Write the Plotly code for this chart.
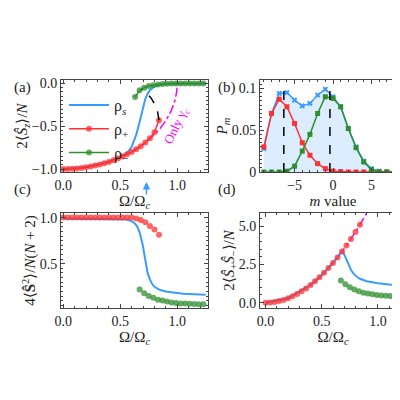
import plotly.graph_objects as go

# ---- panel (a) ----
xa_red = [0,.04,.08,.12,.16,.2,.24,.28,.32,.36,.4,.44,.48,.52,.56,.6,.64,.68,.72,.76,.8,.84]
ya_red = [-1,-0.999,-0.997,-0.993,-0.987,-0.98,-0.971,-0.96,-0.947,-0.933,-0.917,-0.898,-0.877,-0.854,-0.828,-0.8,-0.768,-0.733,-0.69,-0.64,-0.57,-0.43]
xa_blue = [0,0.2,0.4,0.5,0.55,0.58,0.6,0.62,0.64,0.66,0.68,0.7,0.72,0.74,0.76,0.8,0.85,0.9,0.95,1.25]
ya_blue = [-1,-0.98,-0.915,-0.86,-0.82,-0.78,-0.74,-0.68,-0.6,-0.5,-0.38,-0.27,-0.18,-0.12,-0.08,-0.035,-0.015,-0.007,-0.003,0]
xa_green = [.63,.67,.71,.75,.79,.83,.87,.91,.95,.99,1.03,1.07,1.11,1.15,1.19,1.23]
ya_green = [-0.16,-0.08,-0.05,-0.03,-0.02,-0.012,-0.007,-0.004,-0.002,-0.001,0,0,0,0,0,0]
xa_dash = [0.84,0.835,0.825,0.81,0.79,0.77,0.75,0.73,0.71,0.69]
ya_dash = [-0.43,-0.37,-0.31,-0.26,-0.21,-0.17,-0.14,-0.11,-0.09,-0.07]
xa_mag = [0,0.2,0.4,0.6,0.7,0.8,0.85,0.9,0.95,0.98,0.995,1.0]
ya_mag = [-1,-0.98,-0.917,-0.8,-0.714,-0.6,-0.527,-0.436,-0.312,-0.2,-0.1,0]

# ---- panel (b) ----
m_vals = [-9,-8,-7,-6,-5,-4,-3,-2,-1,0,1,2,3,4,5,6,7,8,9]
pb_blue = [0.028,0.07,0.094,0.095,0.086,0.079,0.082,0.092,0.099,0.09,0.078,0.052,0.03,0.013,0.004,0.001,0,0,0]
pb_red = [0.03,0.07,0.087,0.078,0.058,0.035,0.02,0.01,0.004,0.001,0.0005,0,0,0,0,0,0,0,0]
pb_green = [0,0,0,0.001,0.007,0.025,0.045,0.07,0.09,0.088,0.078,0.052,0.029,0.012,0.003,0,0,0,0]
b_vlines = [-6.4,-0.4]

# ---- panel (c) ----
yc_red = [1,1,1,1,1,1,1,1,1,1,1,1,1,1,1,1,0.99,0.975,0.95,0.91,0.87,0.815]
xc_blue = [0,0.5,0.55,0.58,0.61,0.63,0.65,0.67,0.69,0.7,0.71,0.72,0.73,0.74,0.76,0.78,0.8,0.85,0.9,0.95,1.05,1.25]
yc_blue = [0.99,0.985,0.98,0.97,0.955,0.935,0.9,0.84,0.75,0.69,0.61,0.53,0.46,0.4,0.33,0.28,0.25,0.215,0.2,0.19,0.175,0.165]
xcd_green = [.67,.71,.75,.79,.83,.87,.91,.95,.99,1.03,1.07,1.11,1.15,1.19,1.23]
yc_green = [0.22,0.18,0.15,0.13,0.11,0.10,0.09,0.08,0.075,0.07,0.068,0.066,0.064,0.062,0.06]

# ---- panel (d) ----
yd_red = [0,0.012,0.046,0.10,0.18,0.29,0.41,0.56,0.74,0.93,1.15,1.39,1.66,1.95,2.26,2.59,2.95,3.33,3.73,4.16,4.61,5.08]
xd_mag = [0,0.2,0.4,0.5,0.6,0.7,0.8,0.85,0.9]
yd_mag = [0,0.29,1.15,1.8,2.59,3.53,4.61,5.2,5.83]
xd_blue = [0,0.2,0.4,0.5,0.6,0.63,0.65,0.67,0.68,0.69,0.7,0.72,0.74,0.76,0.78,0.81,0.84,0.9,1.0,1.1,1.25]
yd_blue = [0,0.29,1.15,1.8,2.6,2.9,3.12,3.27,3.3,3.27,3.15,2.8,2.45,2.15,1.92,1.7,1.56,1.4,1.27,1.18,1.12]
yd_green = [1.45,1.2,1.0,0.85,0.75,0.65,0.6,0.55,0.5,0.47,0.45,0.43,0.42,0.41,0.4]

BLUE = "#3a9bff"; RED = "#ff3030"; GREEN = "#2e8f2e"; MAG = "#ff00ff"
FONT = "Liberation Serif"

fig = go.Figure()
def mk(c): return dict(color=c, size=6, opacity=0.75)

# (a)
fig.add_trace(go.Scatter(x=xa_mag, y=ya_mag, mode="lines", line=dict(color=MAG, dash="dashdot", width=1.5), xaxis="x", yaxis="y", showlegend=False))
fig.add_trace(go.Scatter(x=xa_blue, y=ya_blue, mode="lines", line=dict(color=BLUE, width=2), name="ρ<sub><i>s</i></sub>", xaxis="x", yaxis="y"))
fig.add_trace(go.Scatter(x=xa_red, y=ya_red, mode="lines+markers", line=dict(color=RED, width=1.5), marker=mk(RED), name="ρ<sub>+</sub>", xaxis="x", yaxis="y"))
fig.add_trace(go.Scatter(x=xa_green, y=ya_green, mode="lines+markers", line=dict(color=GREEN, width=1.5), marker=mk(GREEN), name="ρ<sub>−</sub>", xaxis="x", yaxis="y"))
fig.add_trace(go.Scatter(x=xa_dash, y=ya_dash, mode="lines", line=dict(color="black", dash="dash", width=1.5), xaxis="x", yaxis="y", showlegend=False))

# (b)
fig.add_trace(go.Scatter(x=m_vals, y=pb_blue, mode="lines+markers", fill="tozeroy", fillcolor="rgba(58,155,255,0.18)", line=dict(color=BLUE, width=1.5), marker=dict(color=BLUE, size=5, symbol="x"), xaxis="x2", yaxis="y2", showlegend=False))
fig.add_trace(go.Scatter(x=m_vals, y=pb_red, mode="lines+markers", line=dict(color=RED, width=1.5), marker=dict(color=RED, size=5, symbol="square"), xaxis="x2", yaxis="y2", showlegend=False))
fig.add_trace(go.Scatter(x=m_vals, y=pb_green, mode="lines+markers", line=dict(color=GREEN, width=1.5), marker=dict(color=GREEN, size=5, symbol="square"), xaxis="x2", yaxis="y2", showlegend=False))
for v in b_vlines:
    fig.add_shape(type="line", x0=v, x1=v, y0=0, y1=0.1, xref="x2", yref="y2", line=dict(color="black", dash="dash", width=1.5))

# (c)
fig.add_trace(go.Scatter(x=xc_blue, y=yc_blue, mode="lines", line=dict(color=BLUE, width=2), xaxis="x3", yaxis="y3", showlegend=False))
fig.add_trace(go.Scatter(x=xa_red, y=yc_red, mode="markers", marker=mk(RED), xaxis="x3", yaxis="y3", showlegend=False))
fig.add_trace(go.Scatter(x=xcd_green, y=yc_green, mode="markers", marker=mk(GREEN), xaxis="x3", yaxis="y3", showlegend=False))

# (d)
fig.add_trace(go.Scatter(x=xd_mag, y=yd_mag, mode="lines", line=dict(color=MAG, dash="dashdot", width=1.5), xaxis="x4", yaxis="y4", showlegend=False))
fig.add_trace(go.Scatter(x=xd_blue, y=yd_blue, mode="lines", line=dict(color=BLUE, width=2), xaxis="x4", yaxis="y4", showlegend=False))
fig.add_trace(go.Scatter(x=xa_red, y=yd_red, mode="markers", marker=mk(RED), xaxis="x4", yaxis="y4", showlegend=False))
fig.add_trace(go.Scatter(x=xcd_green, y=yd_green, mode="markers", marker=mk(GREEN), xaxis="x4", yaxis="y4", showlegend=False))

def ax(domain, rng, anchor, title=None, tickvals=None, ticktext=None, standoff=0):
    d = dict(domain=domain, range=rng, anchor=anchor, showline=True, linecolor="#444", linewidth=1,
             mirror="ticks", ticks="inside", ticklen=4, tickcolor="#444", showgrid=False, zeroline=False,
             automargin=False,
             minor=dict(ticks="inside", ticklen=2, tickcolor="#444"),
             tickfont=dict(family=FONT, size=14, color="#222"))
    if title: d["title"] = dict(text=title, font=dict(family=FONT, size=15, color="#222"), standoff=standoff)
    if tickvals is not None: d["tickvals"] = tickvals
    if ticktext is not None: d["ticktext"] = ticktext
    return d

OM = "Ω/Ω<sub><i>c</i></sub>"
fig.update_layout(
    width=400, height=400, margin=dict(l=0, r=0, t=0, b=0, autoexpand=False),
    paper_bgcolor="white", plot_bgcolor="white",
    xaxis=ax([0.1325, 0.5], [-0.02, 1.27], "y", OM, tickvals=[0, 0.5, 1.0], ticktext=["0.0", "0.5", "1.0"]),
    yaxis=ax([0.59, 0.82], [-1.035, 0.04], "x", "2⟨<i>Ŝ<sub>z</sub></i>⟩/<i>N</i>", tickvals=[-1, -0.5, 0], ticktext=["−1.0", "−0.5", "0.0"]),
    xaxis2=ax([0.63, 0.995], [-9.5, 9.5], "y2", "<i>m</i> value", tickvals=[-5, 0, 5], ticktext=["−5", "0", "5"]),
    yaxis2=ax([0.59, 0.82], [0, 0.11], "x2", "<i>P<sub>m</sub></i>", tickvals=[0, 0.05, 0.1], ticktext=["0", "0.05", "0.1"]),
    xaxis3=ax([0.1325, 0.5], [-0.02, 1.27], "y3", OM, tickvals=[0, 0.5, 1.0], ticktext=["0.0", "0.5", "1.0"]),
    yaxis3=ax([0.25, 0.4875], [0.02, 1.05], "x3", "4⟨<b>Ŝ</b><sup>2</sup>⟩/<i>N</i>(<i>N</i> + 2)", tickvals=[0.5, 1.0], ticktext=["0.5", "1.0"]),
    xaxis4=ax([0.63, 0.995], [-0.05, 1.25], "y4", OM, tickvals=[0, 0.5, 1.0], ticktext=["0.0", "0.5", "1.0"]),
    yaxis4=ax([0.25, 0.4875], [-0.35, 5.85], "x4", "2⟨<i>Ŝ</i><sub>+</sub><i>Ŝ</i><sub>−</sub>⟩/<i>N</i>", tickvals=[0, 2.5, 5], ticktext=["0.0", "2.5", "5.0"]),
    legend=dict(x=0.14, y=0.80, xanchor="left", yanchor="top", bgcolor="rgba(0,0,0,0)",
                font=dict(family=FONT, size=16, color="#222"), tracegroupgap=2, itemwidth=40),
)
labels = [("(a)", 0.01, 0.80), ("(b)", 0.52, 0.80), ("(c)", 0.01, 0.545), ("(d)", 0.52, 0.545)]
for t, x, y in labels:
    fig.add_annotation(text=t, x=x, y=y, xref="paper", yref="paper", showarrow=False, xanchor="left", yanchor="middle",
                       font=dict(family=FONT, size=15, color="#222"))
fig.add_annotation(text="Only γ<sub><i>c</i></sub>", x=0.99, y=-0.5, xref="x", yref="y", showarrow=False,
                   textangle=-65, font=dict(family=FONT, size=13, color=MAG))
fig.add_annotation(x=0.73, y=0.565, xref="x", yref="paper", ax=0, ay=14, showarrow=True,
                   arrowhead=2, arrowsize=1, arrowwidth=1.5, arrowcolor=BLUE, text="")
fig.write_html("out.html")
